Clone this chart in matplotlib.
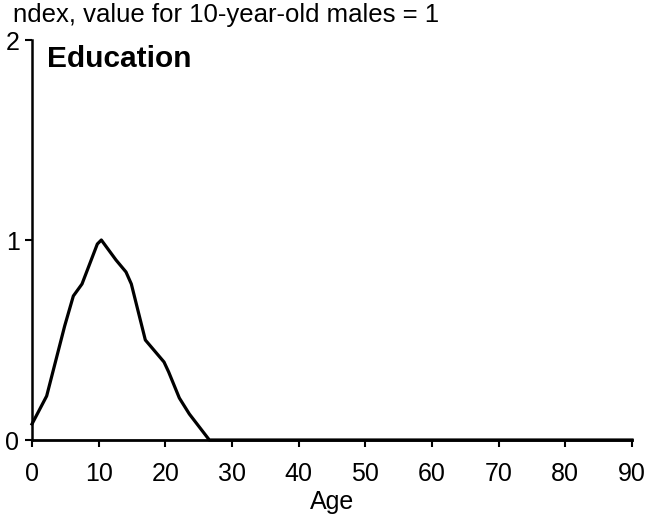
import matplotlib
matplotlib.use("Agg")
import matplotlib.pyplot as plt

plt.rcParams['font.family'] = ['Liberation Sans', 'DejaVu Sans']

# education index by age (10-year-old males = 1)
age = [0, 2.2, 4.9, 6.2, 7.5, 9.8, 10.4, 12.6, 14.1, 14.9, 17.0, 19.8, 20.5,
       22.1, 23.6, 26.6, 90]
value = [0.08, 0.22, 0.57, 0.72, 0.78, 0.98, 1.0, 0.90, 0.84, 0.78, 0.50, 0.39,
         0.34, 0.21, 0.13, 0.0, 0.0]
xticks = [0, 10, 20, 30, 40, 50, 60, 70, 80, 90]
yticks = [0, 1, 2]

fig = plt.figure(figsize=(6.55, 5.2), dpi=100)
ax = fig.add_axes([32 / 655, 1 - 440 / 520, 600 / 655, 400 / 520])

ax.plot(age, value, color='black', linewidth=2.3, clip_on=False)

ax.set_xlim(0, 90)
ax.set_ylim(0, 2)
ax.set_xticks(xticks)
ax.set_yticks(yticks)
ax.spines['right'].set_visible(False)
ax.spines['top'].set_visible(False)
ax.spines['left'].set_linewidth(1.8)
ax.spines['bottom'].set_linewidth(2.0)
ax.tick_params(axis='both', direction='out', length=5, width=1.5,
               labelsize=18, colors='black')
ax.tick_params(axis='x', pad=11)
ax.tick_params(axis='y', pad=4)
ax.set_xlabel('Age', fontsize=18, labelpad=3)

fig.text(13 / 655, 1 - 22 / 520, 'ndex, value for 10-year-old males = 1',
         fontsize=18.5, ha='left', va='baseline')
fig.text(47 / 655, 1 - 67 / 520, 'Education', fontsize=21.5,
         fontweight='bold', ha='left', va='baseline')

fig.savefig('out.png', dpi=100)
